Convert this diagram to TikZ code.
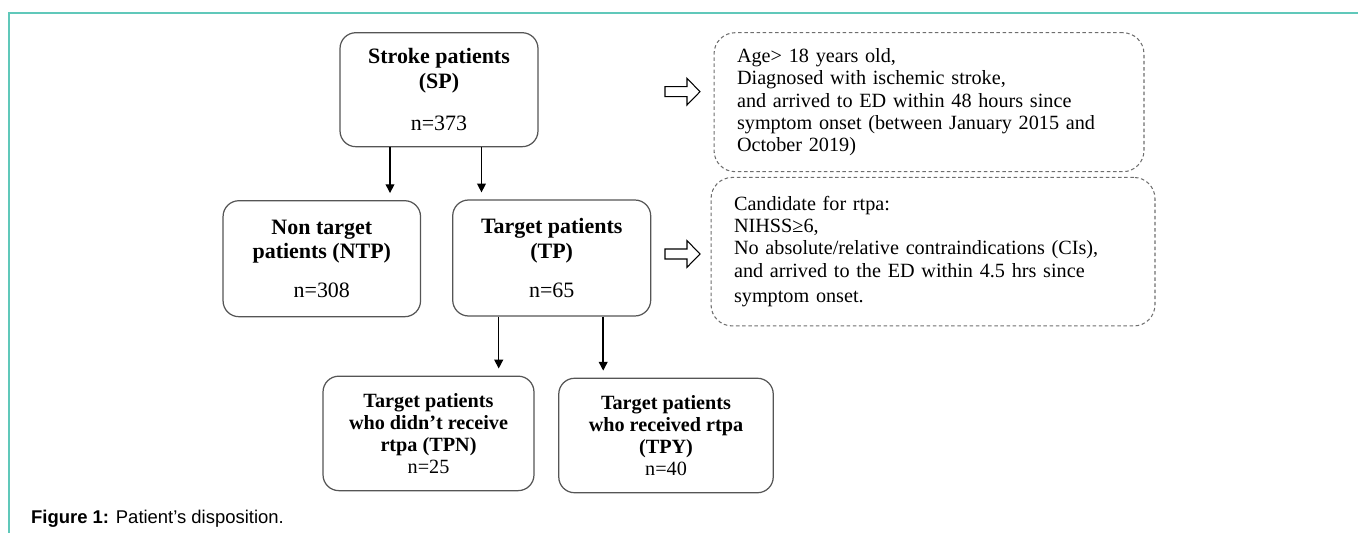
\documentclass[tikz,border=0pt]{standalone}
\usepackage{fontspec}
\setmainfont{Liberation Serif}
\newfontfamily\capfont{Liberation Sans}
\usetikzlibrary{arrows.meta}
\definecolor{framecol}{RGB}{96,200,186}
\definecolor{boxgray}{RGB}{85,85,85}
\definecolor{dashgray}{RGB}{110,110,110}

\begin{document}
\begin{tikzpicture}[x=0.02cm, y=-0.02cm, >={Triangle[length=5pt,width=5pt]},
        group/.style={draw=boxgray, line width=0.7pt, rounded corners=9pt, align=center, inner sep=2pt, font=\fontsize{12.5}{14}\selectfont},
        subgroup/.style={group, font=\fontsize{11.5}{12.6}\selectfont},
        criteria/.style={draw=dashgray, dash pattern=on 2pt off 1.5pt, line width=0.6pt, rounded corners=12pt, align=left, inner xsep=0.46cm, font=\fontsize{11.5}{12.6}\selectfont},
        hollow/.style={draw, line width=0.6pt, fill=white},
        flow/.style={->, line width=0.8pt, shorten >=4pt}]
        \useasboundingbox (0,0) rectangle (1358,533);
        \draw[framecol, line width=1.1pt] (9,533) -- (9,13) -- (1358,13);
        \node[group, minimum width=3.96cm, minimum height=2.28cm] (sp) at (439,89.7) {\textbf{Stroke patients}\\\textbf{(SP)}\\[10pt]n=373};
        \node[group, minimum width=3.95cm, minimum height=2.32cm] (ntp) at (321.8,258.7) {\textbf{Non target}\\\textbf{patients (NTP)}\\[8pt]n=308};
        \node[group, minimum width=3.96cm, minimum height=2.32cm] (tp) at (551.7,258) {\textbf{Target patients}\\\textbf{(TP)}\\[8pt]n=65};
        \node[subgroup, minimum width=4.22cm, minimum height=2.29cm] (tpn) at (428.5,433.4) {\textbf{Target patients}\\\textbf{who didn’t receive}\\\textbf{rtpa (TPN)}\\n=25};
        \node[subgroup, minimum width=4.29cm, minimum height=2.29cm] (tpy) at (666,435.5) {\textbf{Target patients}\\\textbf{who received rtpa}\\\textbf{(TPY)}\\n=40};
        \node[criteria, text width=7.68cm, minimum height=2.78cm] (inclusion) at (929,102.2) {Age> 18 years old,\\Diagnosed with ischemic stroke,\\and arrived to ED within 48 hours since\\symptom onset (between January 2015 and\\October 2019)};
        \node[criteria, text width=7.96cm, minimum height=2.97cm] (candidate) at (933,251.7) {Candidate for rtpa:\\NIHSS≥6,\\No absolute/relative contraindications (CIs),\\and arrived to the ED within 4.5 hrs since\\[2pt]symptom onset.};
        \draw[hollow] (665,86.7) -- (687,86.7) -- (687,78.3) -- (700,91.7) -- (687,105) -- (687,96.7) -- (665,96.7) -- cycle;
        \draw[hollow] (665,249) -- (687,249) -- (687,240.6) -- (700,254) -- (687,267.3) -- (687,259) -- (665,259) -- cycle;
        \draw[flow] ([xshift=-0.98cm]sp.south) -- ([xshift=-0.98cm]sp.south |- ntp.north);
        \draw[flow] ([xshift=0.85cm]sp.south) -- ([xshift=0.85cm]sp.south |- tp.north);
        \draw[flow] ([xshift=-1.06cm]tp.south) -- ([xshift=-1.06cm]tp.south |- tpn.north);
        \draw[flow] ([xshift=1.03cm]tp.south) -- ([xshift=1.03cm]tp.south |- tpy.north);
        \node[anchor=base west, font=\capfont\fontsize{10.5}{12}\selectfont] (caption) at (25,523) {\textbf{Figure 1:} Patient’s disposition.};
    \end{tikzpicture}
\end{document}
